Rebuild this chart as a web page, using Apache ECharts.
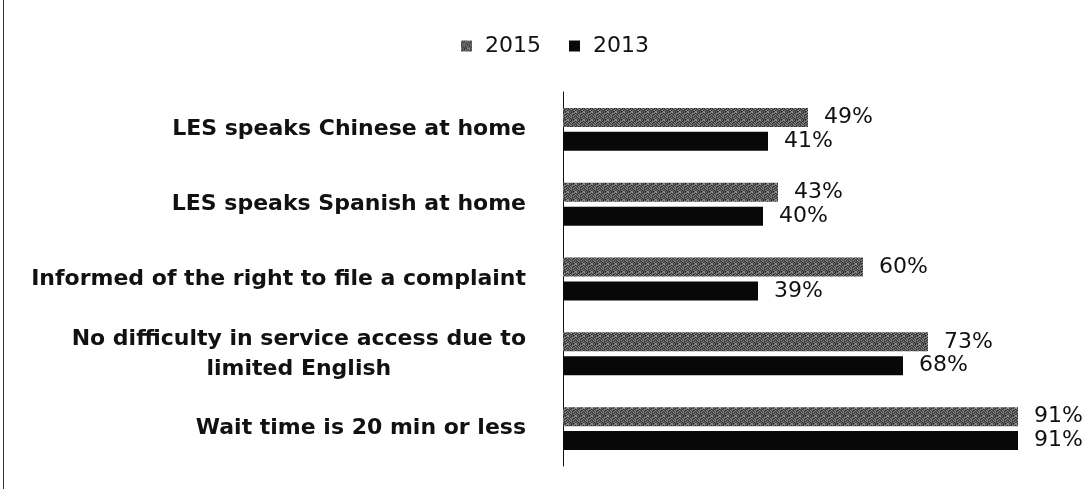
<!DOCTYPE html>
<html>
<head>
<meta charset="utf-8">
<script src="https://cdn.jsdelivr.net/npm/echarts@6/dist/echarts.min.js"></script>
<style>
  html, body { margin: 0; padding: 0; background: #fff; }
  #frame { position: absolute; left: 0; top: 0; width: 1091px; height: 489px; }
  #edge { position: absolute; left: 3px; top: 0; width: 1px; height: 489px; background: #333; }
  #chart { position: absolute; left: 0; top: 0; width: 1091px; height: 489px; }
</style>
</head>
<body>
<div id="frame"><div id="chart"></div><div id="edge"></div></div>
<script>
const categories = [
  'LES speaks Chinese at home',
  'LES speaks Spanish at home',
  'Informed of the right to file a complaint',
  'No difficulty in service access due to\nlimited English',
  'Wait time is 20 min or less'
];
const seriesNames = ['2015', '2013'];
const values2015 = [49, 43, 60, 73, 91];
const values2013 = [41, 40, 39, 68, 91];

// speckled dark-gray texture for the 2015 bars (deterministic pattern)
function makePattern() {
  const c = document.createElement('canvas');
  c.width = 8; c.height = 8;
  const ctx = c.getContext('2d');
  const map = [
    '41302143',
    '23014320',
    '10423014',
    '32140231',
    '04213402',
    '21340123',
    '13021340',
    '40312014'
  ];
  const shades = ['#262626', '#404040', '#585858', '#767676', '#969696'];
  for (let y = 0; y < 8; y++) {
    for (let x = 0; x < 8; x++) {
      ctx.fillStyle = shades[+map[y][x]];
      ctx.fillRect(x, y, 1, 1);
    }
  }
  return c;
}
const pattern = { image: makePattern(), repeat: 'repeat' };

const chart = echarts.init(document.getElementById('chart'), null, { renderer: 'canvas' });
const labelStyle = {
  show: true,
  position: 'right',
  distance: 16,
  formatter: '{c}%',
  fontFamily: 'DejaVu Sans',
  fontSize: 22,
  color: '#111'
};
const catFont = {
  fontFamily: 'DejaVu Sans',
  fontWeight: 'bold',
  fontSize: 22,
  lineHeight: 30,
  color: '#111'
};
chart.setOption({
  animation: false,
  backgroundColor: '#fff',
  legend: {
    top: 35,
    left: 461,
    padding: 0,
    itemWidth: 11,
    itemHeight: 11,
    itemGap: 28,
    icon: 'rect',
    textStyle: { fontFamily: 'DejaVu Sans', fontSize: 22, color: '#111', padding: [0, 0, 0, 8] },
    data: seriesNames
  },
  grid: { left: 563, right: 28, top: 92, bottom: 23, containLabel: false },
  xAxis: {
    type: 'value', min: 0, max: 100,
    show: false
  },
  yAxis: {
    type: 'category',
    inverse: true,
    data: categories,
    axisLine: { show: true, lineStyle: { color: '#111', width: 1 } },
    axisTick: { show: false },
    axisLabel: Object.assign({
      margin: 37,
      align: 'right',
      formatter: function (v) {
        return v.split('\n').map(function (s) { return '{c|' + s + '}'; }).join('\n');
      },
      rich: { c: Object.assign({ align: 'center' }, catFont) }
    }, catFont)
  },
  series: [
    {
      name: seriesNames[0], type: 'bar', data: values2015,
      barWidth: 19, barGap: '26%',
      itemStyle: { color: pattern },
      label: labelStyle
    },
    {
      name: seriesNames[1], type: 'bar', data: values2013,
      barWidth: 19, barGap: '26%',
      itemStyle: { color: '#080808' },
      label: labelStyle
    }
  ]
});
</script>
</body>
</html>
